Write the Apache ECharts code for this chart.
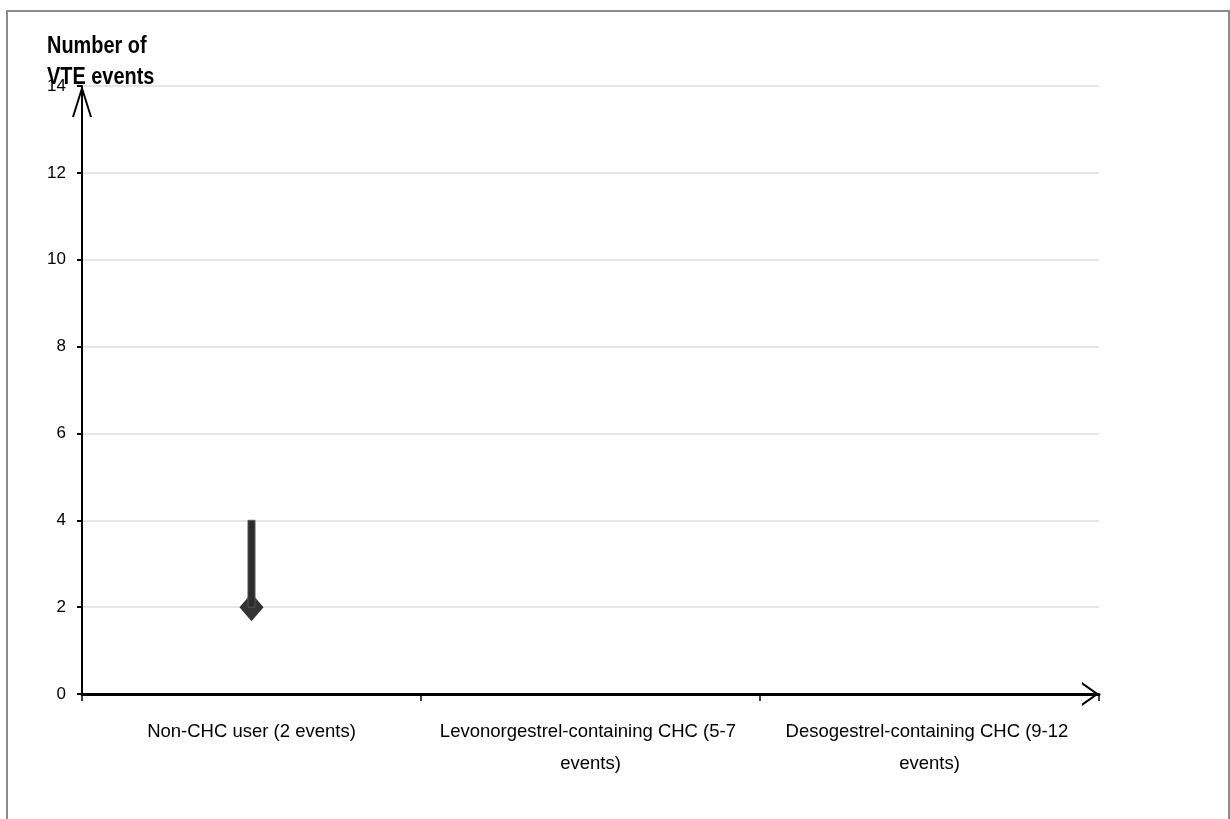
<!DOCTYPE html>
<html>
<head>
<meta charset="utf-8">
<script src="https://cdn.jsdelivr.net/npm/echarts@6/dist/echarts.min.js"></script>
<style>
  html, body { margin: 0; padding: 0; background: #fff; }
  #chart { width: 1230px; height: 819px; }
</style>
</head>
<body>
<div id="chart"></div>
<script>
const categories = ['Non-CHC user (2 events)', 'Levonorgestrel-containing CHC (5-7 events)', 'Desogestrel-containing CHC (9-12 events)'];
const pointValues = [2, null, null];
const lowerValues = [2, null, null];
const upperValues = [4, null, null];
const yTicks = [0, 2, 4, 6, 8, 10, 12, 14];
const yAxisTitle = 'Number of\nVTE events';

const FONT = '"Liberation Sans Narrow", "Arial Narrow", "Liberation Sans", Arial, sans-serif';

const chart = echarts.init(document.getElementById('chart'), null, { renderer: 'canvas' });

const errorData = categories.map((c, i) => [i, lowerValues[i], upperValues[i]]).filter(d => d[1] != null && d[2] != null);
const pointData = categories.map((c, i) => [i, pointValues[i]]).filter(d => d[1] != null);

const option = {
  backgroundColor: '#fff',
  animation: false,
  graphic: [
    {
      type: 'rect',
      shape: { x: 7, y: 11, width: 1222, height: 830 },
      style: { fill: 'none', stroke: '#8c8c8c', lineWidth: 2 },
      silent: true,
      z: -10
    },
    {
      type: 'text',
      x: 47,
      y: 31,
      scaleX: 0.83,
      style: {
        text: yAxisTitle,
        font: 'bold 24px ' + FONT,
        lineHeight: 31,
        fill: '#000',
        verticalAlign: 'top',
        align: 'left'
      }
    }
  ],
  grid: { left: 82, right: 131, top: 86, bottom: 125, containLabel: false },
  xAxis: {
    type: 'category',
    data: categories,
    boundaryGap: true,
    axisLine: {
      show: true,
      lineStyle: { color: '#000', width: 3 },
      symbol: ['none', 'path://M12,0 L24,17 L21.5,17 L12,3.5 L2.5,17 L0,17 Z'],
      symbolSize: [24, 17],
      symbolOffset: [0, -8.5]
    },
    axisTick: { show: true, alignWithLabel: false, length: 7, lineStyle: { color: '#000', width: 1.5 } },
    axisLabel: {
      interval: 0,
      margin: 22,
      color: '#000',
      fontFamily: FONT,
      fontSize: 18.5,
      lineHeight: 32,
      width: 310,
      overflow: 'break',
      align: 'center'
    },
    splitLine: { show: false }
  },
  yAxis: {
    type: 'value',
    min: 0,
    max: 14,
    interval: 2,
    axisLine: {
      show: true,
      lineStyle: { color: '#000', width: 2 },
      symbol: ['none', 'path://M10,0 L20,32 L18,32 L10,6.4 L2,32 L0,32 Z'],
      symbolSize: [20, 32],
      symbolOffset: [0, -15]
    },
    axisTick: { show: true, length: 5, lineStyle: { color: '#000', width: 2 } },
    axisLabel: {
      margin: 16,
      color: '#000',
      fontFamily: FONT,
      fontSize: 17,
      formatter: v => (yTicks.indexOf(v) >= 0 ? String(v) : '')
    },
    splitLine: { show: true, lineStyle: { color: '#e6e6e6', width: 2 } }
  },
  series: [
    {
      type: 'scatter',
      data: pointData,
      symbol: 'diamond',
      symbolSize: [24, 28],
      itemStyle: { color: '#333', opacity: 1 },
      z: 2
    },
    {
      type: 'custom',
      data: errorData,
      z: 3,
      renderItem: function (params, api) {
        const x = api.value(0);
        const lo = api.coord([x, api.value(1)]);
        const hi = api.coord([x, api.value(2)]);
        const w = 7;
        return {
          type: 'rect',
          shape: { x: lo[0] - w / 2, y: hi[1], width: w, height: lo[1] - hi[1] },
          style: { fill: '#2b2b2b', stroke: '#555', lineWidth: 1 }
        };
      }
    }
  ]
};

chart.setOption(option);
</script>
</body>
</html>
